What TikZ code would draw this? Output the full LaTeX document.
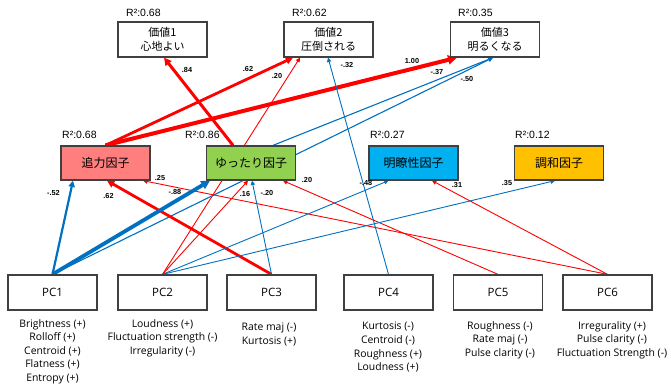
\documentclass[tikz,border=0pt]{standalone}
\usepackage{fontspec}
\setmainfont{Open Sans}
\newfontfamily\jpfont{Noto Sans CJK JP}
\newfontfamily\arialfont{Liberation Sans}
\usetikzlibrary{arrows.meta,calc}
\pgfdeclarelayer{bg}
\pgfsetlayers{bg,main}
\definecolor{posred}{HTML}{FF0000}
\definecolor{negblue}{HTML}{0070C0}
\definecolor{edgegray}{HTML}{404040}
\definecolor{fsalmon}{HTML}{FF7F7F}
\definecolor{fgreen}{HTML}{92D050}
\definecolor{fblue}{HTML}{00B0F0}
\definecolor{forange}{HTML}{FFC000}
\begin{document}
\begin{tikzpicture}[x=1pt,y=-1pt,
 box/.style={draw=edgegray,line width=1.3pt,minimum width=89pt,minimum height=35pt,inner sep=0pt},
 valbox/.style={box,font=\jpfont\fontsize{11}{14}\selectfont,align=center},
 facbox/.style={box,minimum height=34pt,font=\jpfont\fontsize{12}{14}\selectfont},
 pcbox/.style={box,font=\fontsize{11.5}{14}\selectfont},
 desc/.style={anchor=north,align=center,inner sep=0pt,font=\fontsize{10.4}{13.6}\selectfont},
 rsq/.style={anchor=west,inner sep=0pt,font=\arialfont\fontsize{10.5}{12}\selectfont},
 coef/.style={inner sep=0pt,font=\arialfont\bfseries\fontsize{7.3}{8}\selectfont},
 posedge/.style={draw=posred,-{Triangle[length=3pt 1.5,width=3pt 1.5]}},
 negedge/.style={draw=negblue,-{Triangle[length=3pt 1.5,width=3pt 1.5]}},
]
\useasboundingbox (0,0) rectangle (671,388);

% value boxes
\node[valbox] (v1) at (162.5,39.5) {価値1\\心地よい};
\node[valbox] (v2) at (328.5,39.5) {価値2\\圧倒される};
\node[valbox] (v3) at (495,39.5) {価値3\\明るくなる};
\node[rsq] (r1) at (126,12.5) {R²:0.68};
\node[rsq] (r2) at (292,12.5) {R²:0.62};
\node[rsq] (r3) at (458,12.5) {R²:0.35};

% factor boxes
\node[facbox,fill=fsalmon] (f1) at (105.5,163) {追力因子};
\node[facbox,fill=fgreen] (f2) at (251,163) {ゆったり因子};
\node[facbox,fill=fblue] (f3) at (413.5,163) {明瞭性因子};
\node[facbox,fill=forange] (f4) at (559,163) {調和因子};
\node[rsq] (r4) at (62,135) {R²:0.68};
\node[rsq] (r5) at (185,135) {R²:0.86};
\node[rsq] (r6) at (370,135) {R²:0.27};
\node[rsq] (r7) at (515,135) {R²:0.12};

% PC boxes
\node[pcbox] (pc1) at (52.5,292.5) {PC1};
\node[pcbox] (pc2) at (162.5,292.5) {PC2};
\node[pcbox] (pc3) at (271.5,292.5) {PC3};
\node[pcbox] (pc4) at (388.5,292.5) {PC4};
\node[pcbox] (pc5) at (498,292.5) {PC5};
\node[pcbox] (pc6) at (607.5,292.5) {PC6};

\node[desc] (d1) at (52.5,319) {Brightness (+)\\Rolloff (+)\\Centroid (+)\\Flatness (+)\\Entropy (+)};
\node[desc] (d2) at (162.5,319) {Loudness (+)\\Fluctuation strength (-)\\Irregularity (-)};
\node[desc] (d3) at (269,323) {Rate maj (-)\\Kurtosis (+)};
\node[desc] (d4) at (388,322) {Kurtosis (-)\\Centroid (-)\\Roughness (+)\\Loudness (+)};
\node[desc] (d5) at (500,321) {Roughness (-)\\Rate maj (-)\\Pulse clarity (-)};
\node[desc] (d6) at (612,321) {Irregurality (+)\\Pulse clarity (-)\\Fluctuation Strength (-)};

% edges
\begin{pgfonlayer}{bg}
\draw[posedge,line width=3pt] ([xshift=-18pt]f2.north) -- ([xshift=1.5pt]v1.south);
\draw[posedge,line width=2.8pt] (f1.north) -- ([xshift=-35.5pt]v2.south);
\draw[posedge,line width=4pt] (f1.north) -- ([xshift=-38pt]v3.south);
\draw[posedge,line width=0.9pt] (pc2.north) -- ([xshift=-28.5pt]v2.south);
\draw[negedge,line width=0.9pt] (pc4.north) -- ([xshift=-0.5pt]v2.south);
\draw[negedge,line width=1.1pt] ([xshift=22pt]f2.north) -- ([xshift=-2pt]v3.south);
\draw[negedge,line width=1.1pt] (pc1.north) -- ([xshift=-2pt]v3.south);
\draw[negedge,line width=2.2pt] (pc1.north) -- ([xshift=-32.5pt]f1.south);
\draw[posedge,line width=2.8pt] (pc3.north) -- ([xshift=1.5pt]f1.south);
\draw[posedge,line width=0.9pt] (pc6.north) -- ([xshift=37.5pt]f1.south);
\draw[negedge,line width=3.8pt] (pc1.north) -- ([xshift=-41pt]f2.south);
\draw[posedge,line width=0.9pt] (pc2.north) -- ([xshift=-3pt]f2.south);
\draw[negedge,line width=0.9pt] (pc3.north) -- ([xshift=1pt]f2.south);
\draw[posedge,line width=0.9pt] (pc5.north) -- ([xshift=32pt]f2.south);
\draw[negedge,line width=0.9pt] (pc2.north) -- ([xshift=-25pt]f3.south);
\draw[posedge,line width=0.9pt] (pc6.north) -- ([xshift=18.5pt]f3.south);
\draw[negedge,line width=0.9pt] (pc2.north) -- ([xshift=-4pt]f4.south);
\end{pgfonlayer}

% coefficients
\node[coef] (c1) at (187,70) {.84};
\node[coef] (c2) at (248,69) {.62};
\node[coef] (c3) at (277,75.5) {.20};
\node[coef] (c4) at (347,64.5) {-.32};
\node[coef] (c5) at (412,61) {1.00};
\node[coef] (c6) at (437,72) {-.37};
\node[coef] (c7) at (467,78.5) {-.50};
\node[coef] (c8) at (53.5,192.5) {-.52};
\node[coef] (c9) at (108.5,196) {.62};
\node[coef] (c10) at (160,178) {.25};
\node[coef] (c11) at (175,192) {-.88};
\node[coef] (c12) at (245,194) {.16};
\node[coef] (c13) at (267,192.5) {-.20};
\node[coef] (c14) at (307,180) {.20};
\node[coef] (c15) at (366,182.5) {-.48};
\node[coef] (c16) at (457,185) {.31};
\node[coef] (c17) at (507,183) {.35};
\end{tikzpicture}
\end{document}
